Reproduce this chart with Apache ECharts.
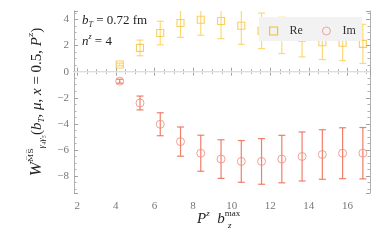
<!DOCTYPE html>
<html><head><meta charset="utf-8">
<script src="https://cdn.jsdelivr.net/npm/echarts@6/dist/echarts.min.js"></script>
<style>html,body{margin:0;padding:0;background:#fff}#c{width:382px;height:243px}</style>
</head><body><div id="c"></div>
<script>
// Data
const pzb = [4.2, 5.25, 6.3, 7.35, 8.4, 9.45, 10.5, 11.55, 12.6, 13.65, 14.7, 15.75, 16.8];
const reVal = [0.55, 1.82, 2.96, 3.73, 3.98, 3.88, 3.52, 3.13, 2.78, 2.6, 2.25, 2.22, 2.13];
const reErr = [0.1, 0.6, 0.9, 1.1, 1.19, 1.35, 1.42, 1.36, 1.39, 1.47, 1.32, 1.37, 1.5];
const imVal = [-0.73, -2.4, -4.03, -5.36, -6.25, -6.7, -6.88, -6.88, -6.7, -6.5, -6.35, -6.25, -6.25];
const imErr = [0.15, 0.53, 0.88, 1.12, 1.38, 1.48, 1.6, 1.75, 1.82, 1.88, 1.9, 1.95, 1.97];
const seriesNames = ['Re', 'Im'];

const SERIF = 'Liberation Serif';
const reColor = '#f7c23c';
const fmt = v => (v < 0 ? '\u2212' + Math.abs(v) : String(v));

function errData(vals, errs) {
  return pzb.map((x, i) => [x, vals[i] - errs[i], vals[i] + errs[i]]);
}
function errRender(color) {
  return function (params, api) {
    const x = api.value(0);
    const a = api.coord([x, api.value(1)]);
    const b = api.coord([x, api.value(2)]);
    const w = 3.5;
    const st = { stroke: color, lineWidth: 1.2, opacity: 0.85 };
    return { type: 'group', children: [
      { type: 'line', shape: { x1: a[0], y1: a[1], x2: b[0], y2: b[1] }, style: st },
      { type: 'line', shape: { x1: a[0] - w, y1: a[1], x2: a[0] + w, y2: a[1] }, style: st },
      { type: 'line', shape: { x1: b[0] - w, y1: b[1], x2: b[0] + w, y2: b[1] }, style: st }
    ]};
  };
}

const axCommon = {
  axisLine: { lineStyle: { color: '#b0b0b0', width: 1 } },
  axisTick: { inside: true, length: 4, lineStyle: { color: '#a0a0a0' } },
  minorTick: { show: true, splitNumber: 4, length: 2.5, lineStyle: { color: '#b0b0b0' } },
  splitLine: { show: false },
  axisLabel: { fontFamily: SERIF, fontSize: 11, color: '#777', formatter: fmt, showMinLabel: false, showMaxLabel: false }
};
const xr = { min: 1.83, max: 17.17, splitNumber: 8 };
const yr = { min: -9.3, max: 4.65, splitNumber: 7 };

const T = '#222';
const chart = echarts.init(document.getElementById('c'), null, { renderer: 'canvas' });
chart.setOption({
  animation: false,
  grid: { left: 74, right: 12, top: 11, bottom: 50 },
  xAxis: [
    Object.assign({ type: 'value', position: 'bottom' }, axCommon, xr,
      { axisLabel: Object.assign({}, axCommon.axisLabel, { margin: 8 }) }),
    Object.assign({ type: 'value', position: 'top' }, axCommon, xr, { axisLabel: { show: false } })
  ],
  yAxis: [
    Object.assign({ type: 'value', position: 'left',
      name: '{w|W}{sup|M\u0305S\u0305}{sub|γ\u2084γ\u2085}{n|(}{i|b}{sub|T}{n|, }{i|μ}{n|, }{i|x}{n| = 0.5, }{i|P}{sup|z}{n|)}',
      nameLocation: 'middle', nameGap: 26, nameRotate: 90,
      nameTextStyle: { fontFamily: SERIF, fontSize: 15, color: T,
        rich: {
          w: { fontFamily: SERIF, fontStyle: 'italic', fontSize: 17, color: T },
          i: { fontFamily: SERIF, fontStyle: 'italic', fontSize: 15, color: T },
          n: { fontFamily: SERIF, fontSize: 15, color: T },
          sup: { fontFamily: 'DejaVu Serif', fontSize: 8, color: T, padding: [0, 0, 12, 0] },
          sub: { fontFamily: SERIF, fontStyle: 'italic', fontSize: 9, color: T, padding: [10, 0, 0, 0] }
        } }
    }, axCommon, yr, { axisLabel: Object.assign({}, axCommon.axisLabel, { margin: 5 }) }),
    Object.assign({ type: 'value', position: 'right' }, axCommon, yr, { axisLabel: { show: false } })
  ],
  legend: {
    data: [
      { name: seriesNames[0], icon: 'rect', itemStyle: { color: 'rgba(0,0,0,0)', borderColor: '#f0b400', borderWidth: 1.2 } },
      { name: seriesNames[1], icon: 'circle', itemStyle: { color: 'rgba(0,0,0,0)', borderColor: '#ef8f80', borderWidth: 1 } }
    ],
    left: 259, top: 17, padding: [8, 4, 8, 10],
    itemGap: 19, itemWidth: 8, itemHeight: 8,
    textStyle: { fontFamily: SERIF, fontSize: 12, color: '#333', padding: [0, 0, 0, 7] },
    z: 20
  },
  graphic: [
    { type: 'rect', z: 15, silent: true, shape: { x: 259, y: 17, width: 103, height: 24 },
      style: { fill: '#f2f2f2' } },
    { type: 'text', left: 82, top: 14, z: 10, style: {
      text: '{i|b}{sub|T}{n| = 0.72 fm}',
      rich: {
        i: { fontFamily: SERIF, fontStyle: 'italic', fontSize: 13, fill: T },
        n: { fontFamily: SERIF, fontSize: 13, fill: T },
        sub: { fontFamily: SERIF, fontStyle: 'italic', fontSize: 8, fill: T, padding: [9, 0, 0, 0] }
      } } },
    { type: 'text', left: 82, top: 33, z: 10, style: {
      text: '{i|n}{sup|z}{n| = 4}',
      rich: {
        i: { fontFamily: SERIF, fontStyle: 'italic', fontSize: 13, fill: T },
        n: { fontFamily: SERIF, fontSize: 13, fill: T },
        sup: { fontFamily: SERIF, fontStyle: 'italic', fontSize: 8, fill: T, padding: [0, 0, 10, 0] }
      } } },
    { type: 'text', left: 197, top: 209, z: 10, style: {
      text: '{i|P}{sup|z}{n|  }{i|b}{sup2|max}',
      rich: {
        i: { fontFamily: SERIF, fontStyle: 'italic', fontSize: 15, fill: T },
        n: { fontFamily: SERIF, fontSize: 15, fill: T },
        sup: { fontFamily: SERIF, fontStyle: 'italic', fontSize: 9, fill: T, padding: [0, 0, 12, 0] },
        sup2: { fontFamily: SERIF, fontSize: 9, fill: T, padding: [0, 0, 12, 0] }
      } } },
    { type: 'text', left: 228, top: 221, z: 10, style: {
      text: 'z', fontFamily: SERIF, fontStyle: 'italic', fontSize: 9, fill: T } }
  ],
  series: [
    { type: 'custom', name: 'reErr', clip: true, renderItem: errRender('#fbd260'), data: errData(reVal, reErr), z: 3,
      markLine: { silent: true, symbol: 'none', label: { show: false },
        lineStyle: { color: '#eeeeee', width: 1.5, type: 'solid' }, data: [{ yAxis: 0 }] } },
    { type: 'custom', name: 'imErr', clip: true, renderItem: errRender('#ec6a52'), data: errData(imVal, imErr), z: 3 },
    { type: 'scatter', name: seriesNames[0], symbol: 'rect', symbolSize: 7, clip: true,
      itemStyle: { color: 'rgba(0,0,0,0)', borderColor: reColor, borderWidth: 1.1 },
      data: pzb.map((x, i) => [x, reVal[i]]), z: 4 },
    { type: 'scatter', name: seriesNames[1], symbol: 'circle', symbolSize: 8, clip: true,
      itemStyle: { color: 'rgba(0,0,0,0)', borderColor: '#ef8a78', borderWidth: 1 },
      data: pzb.map((x, i) => [x, imVal[i]]), z: 4 }
  ]
});
</script></body></html>
